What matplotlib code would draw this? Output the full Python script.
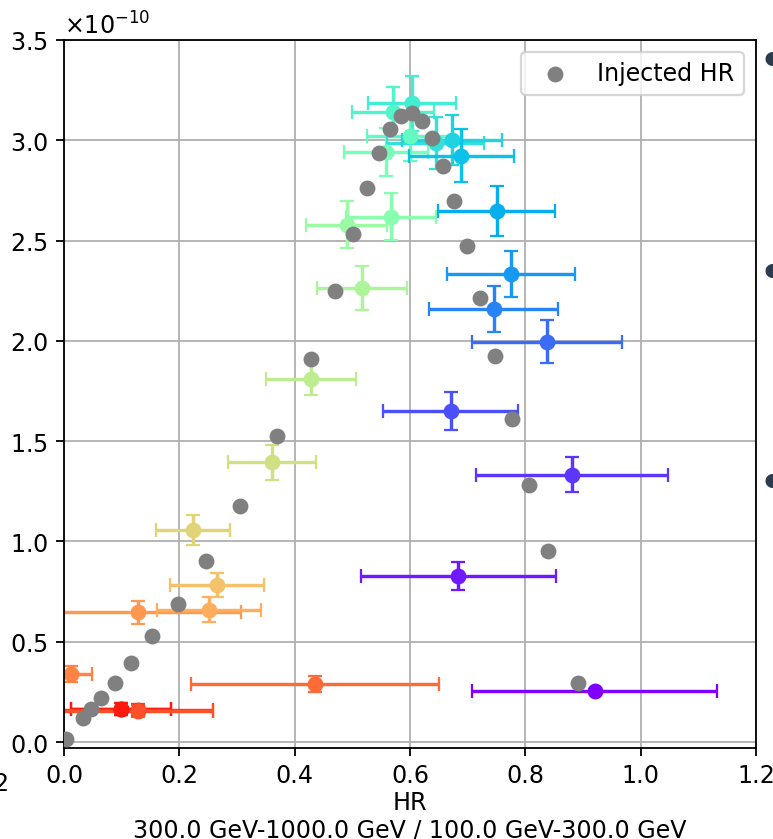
import numpy as np
import matplotlib
matplotlib.use('Agg')
import matplotlib.pyplot as plt

plt.rcParams['font.size'] = 10.5

# injected HR points (grey), y in units of 1e-10
inj_hr = [0.0035, 0.033, 0.047, 0.064, 0.088, 0.116, 0.153, 0.198, 0.246, 0.305,
          0.369, 0.428, 0.470, 0.501, 0.525, 0.546, 0.565, 0.584, 0.603, 0.621,
          0.638, 0.657, 0.676, 0.699, 0.721, 0.747, 0.777, 0.806, 0.839, 0.891]
inj_y = [0.015, 0.12, 0.165, 0.219, 0.294, 0.394, 0.529, 0.688, 0.902, 1.177,
         1.526, 1.91, 2.249, 2.533, 2.762, 2.937, 3.056, 3.121, 3.136, 3.096,
         3.012, 2.872, 2.697, 2.473, 2.214, 1.925, 1.611, 1.281, 0.952, 0.294]

# measured HR points with errors (ordered by colour, red -> purple)
meas_hr = [0.0988, 0.0988, 0.1278, 0.1278, 0.4352, 0.0121, 0.1278, 0.2514, 0.2658, 0.2242,
           0.3602, 0.4283, 0.5173, 0.4902, 0.567, 0.5583, 0.600, 0.571, 0.603, 0.6445,
           0.6723, 0.6889, 0.7503, 0.7746, 0.7451, 0.838, 0.6705, 0.8814, 0.6837, 0.9207]
meas_y = [0.166, 0.1645, 0.158, 0.156, 0.289, 0.339, 0.6467, 0.6596, 0.7828, 1.0585,
          1.3945, 1.8099, 2.265, 2.579, 2.619, 2.940, 3.023, 3.143, 3.184, 2.986,
          3.001, 2.923, 2.649, 2.333, 2.159, 1.996, 1.649, 1.333, 0.829, 0.253]
meas_xerr = [0.086, 0.086, 0.131, 0.131, 0.2155, 0.037, 0.180, 0.0896, 0.0818, 0.064,
             0.0763, 0.078, 0.078, 0.070, 0.078, 0.073, 0.075, 0.071, 0.076, 0.084,
             0.087, 0.091, 0.102, 0.111, 0.112, 0.130, 0.117, 0.1665, 0.169, 0.2124]
meas_yerr = [0.029, 0.029, 0.030, 0.030, 0.040, 0.041, 0.058, 0.062, 0.060, 0.076,
             0.087, 0.080, 0.109, 0.116, 0.116, 0.12, 0.125, 0.125, 0.138, 0.131,
             0.125, 0.131, 0.125, 0.115, 0.115, 0.106, 0.095, 0.087, 0.071, 0.01]

scale = 1e-10

fig = plt.figure(figsize=(773/163, 840/163), dpi=163)
ax = fig.add_axes([64/773, 1 - 748.5/840, (756-64)/773, (748.5-41)/840])

colors = plt.cm.rainbow_r(np.linspace(0, 1, len(meas_hr)))
for i in range(len(meas_hr)):
    ax.errorbar(meas_hr[i], meas_y[i]*scale, xerr=meas_xerr[i], yerr=meas_yerr[i]*scale,
                fmt='o', color=colors[i], capsize=3)

ax.scatter(inj_hr, np.array(inj_y)*scale, color='gray', label='Injected HR', zorder=3)

ax.set_xlim(0, 1.2)
ax.set_ylim(-0.027*scale, 3.5*scale)
ax.ticklabel_format(axis='y', useMathText=True)
ax.grid(True)
ax.set_axisbelow(True)
ax.legend(loc='upper right')
ax.set_xlabel('HR\n300.0 GeV-1000.0 GeV / 100.0 GeV-300.0 GeV', labelpad=1)

# bits of the surrounding page that were cut into the screenshot
for yy in [63, 275, 485]:
    fig.text(772/773, 1 - yy/840, '\u2022', color='#2d3b4f', fontsize=22,
             ha='center', va='center')
fig.text(8/773, 1 - 784/840, '2', fontsize=10.5, ha='right', va='center')

fig.savefig('out.png', dpi=163)
